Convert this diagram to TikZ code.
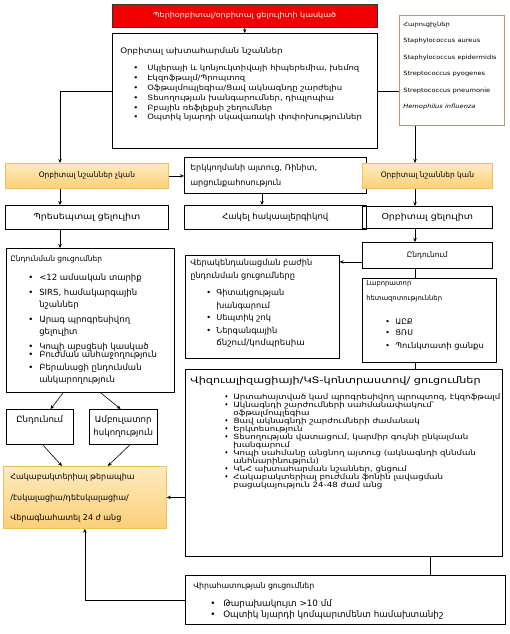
\documentclass[tikz,border=0pt]{standalone}
\usepackage{fontspec}
\setmainfont{DejaVu Sans}
\newfontfamily\wide[FakeStretch=1.15]{DejaVu Sans}
\usepackage{tikz}
\usetikzlibrary{positioning,arrows.meta,calc}
\usepackage{xcolor}
\definecolor{alertred}{HTML}{F00000}
\definecolor{signtop}{HTML}{FEEBBE}
\definecolor{signbot}{HTML}{FBCF78}
\definecolor{signline}{HTML}{F3BE5C}
\definecolor{bugline}{HTML}{B8957A}
\newlength{\bulind}\newlength{\bulgap}
\newcommand{\bitem}[1]{\hspace*{\bulind}\makebox[\bulgap][l]{\textbullet}#1}
\newcommand{\bcont}[1]{\hspace*{\dimexpr\bulind+\bulgap\relax}#1}
\newcommand{\hs}[2][1.2]{\scalebox{#1}[1]{#2}}

\begin{document}
\begin{tikzpicture}[x=1pt,y=-1pt,>={Stealth[length=4pt,width=3.5pt]},
  every node/.style={anchor=north west,inner sep=0pt,font=\fontsize{7.5}{9}\selectfont},
  plainbox/.style={draw,line width=0.6pt,align=center},
  signbox/.style={draw=signline,line width=0.8pt,top color=signtop,bottom color=signbot,align=center},
  link/.style={line width=0.6pt}]
\path[use as bounding box] (0,0) rectangle (509,634);
\coordinate (lx) at (60,0);
\coordinate (mx) at (262,0);
\coordinate (rx) at (415,0);
\coordinate (sx) at (430,0);

% top of the chart
\node[draw=black!80,fill=alertred,text=white,minimum width=265pt,minimum height=23pt,font=\wide\fontsize{7}{8}\selectfont] (susp) at (112,4) {Պերիօրբիտալ/օրբիտալ ցելուլիտի կասկած};
\node[plainbox,inner xsep=8pt,inner ysep=5pt] (orbsign) at (112,33) {\parbox[t][105pt][t]{249pt}{\wide\fontsize{7.35}{9.8}\selectfont
  \setlength{\bulind}{13pt}\setlength{\bulgap}{14pt}%
  \rule{0pt}{15.5pt}{\fontsize{7.6}{9.8}\selectfont Օրբիտալ ախտահարման նշաններ}\\[7.2pt]
  \bitem{Սկլերայի և կոնյուկտիվայի հիպերեմիա, խեմոզ}\\
  \bitem{Էկզոֆթալմ/Պրոպտոզ}\\
  \bitem{Օֆթալմոպլեգիա/Ցավ ակնագնդը շարժելիս}\\
  \bitem{Տեսողության խանգարումներ, դիպլոպիա}\\
  \bitem{Բբային ռեֆլեքսի շեղումներ}\\
  \bitem{Օպտիկ նյարդի սկավառակի փոփոխություններ}}};
\node[draw=bugline,line width=0.7pt,inner sep=4pt] (bugs) at (399,15) {\parbox[t][102pt][t]{97pt}{\wide\fontsize{5.8}{16.5}\selectfont
  \rule{0pt}{7pt}Հարուցիչներ\\
  Staphylococcus aureus\\
  Staphylococcus epidermidis\\
  Streptococcus pyogenes\\
  Streptococcus pneumonie\\
  \textit{Hemophilus influenza}}};

% second row
\node[signbox,minimum width=163pt,minimum height=25pt] (nosign) at (5,163) {Օրբիտալ նշաններ չկան};
\node[plainbox,align=left,text width=170pt,minimum height=36pt,inner xsep=6pt,font=\fontsize{8.1}{15}\selectfont] (bilat) at (184,157) {Երկկողմանի այտուց, Ռինիտ,\\ արցունքահոսություն};
\node[signbox,minimum width=130pt,minimum height=25pt] (sign) at (362,163) {Օրբիտալ նշաններ կան};
\node[plainbox,minimum width=163pt,minimum height=24pt,font=\wide\fontsize{8.2}{9}\selectfont] (presept) at (5,205) {Պրեսեպտալ ցելուլիտ};
\node[plainbox,minimum width=182pt,minimum height=24pt,font=\fontsize{8.5}{9}\selectfont] (antiall) at (184,205) {Հակել հակաալերգիկով};
\node[plainbox,minimum width=130pt,minimum height=22pt,font=\wide\fontsize{8.2}{9}\selectfont] (orbcel) at (362,206) {Օրբիտալ ցելուլիտ};
\node[plainbox,minimum width=130pt,minimum height=26pt] (admit2) at (362,242) {Ընդունում};

% left column
\node[plainbox,inner sep=4pt] (admind) at (6,248) {\parbox[t][136pt][t]{160pt}{\fontsize{8.5}{12}\selectfont
  \setlength{\bulind}{18pt}\setlength{\bulgap}{11pt}%
  \rule{0pt}{9.5pt}{\fontsize{7.5}{12}\selectfont Ընդունման ցուցումներ}\\[7pt]
  \bitem{<12 ամսական տարիք}\\[3pt]
  \bitem{SIRS, համակարգային}\\
  \bcont{նշաններ}\\[3pt]
  \bitem{Արագ պրոգրեսիվող}\\
  \bcont{ցելուլիտ}\\[3pt]
  \bitem{Կոպի աբսցեսի կասկած}\\[-4pt]
  \bitem{Բուժման անհաջողություն}\\[1pt]
  \bitem{Բերանացի ընդունման}\\
  \bcont{անկարողություն}}};
\node[plainbox,inner xsep=2pt,inner ysep=4pt] (admit) at (6,409) {\parbox[t][27pt][t]{63pt}{\centering\fontsize{8.6}{13}\selectfont\rule{0pt}{9.5pt}Ընդունում}};
\node[plainbox,inner xsep=2pt,inner ysep=4pt] (outpt) at (89,409) {\parbox[t][27pt][t]{64pt}{\centering\fontsize{8.6}{13}\selectfont\rule{0pt}{9.5pt}Ամբուլատոր\\ հսկողություն}};
\node[signbox,inner xsep=7pt,inner ysep=4pt] (abx) at (3,466) {\parbox[t][54pt][t]{149pt}{\fontsize{8}{20.5}\selectfont
  \rule{0pt}{9.5pt}Հակաբակտերիալ թերապիա\\
  /էսկալացիա/դեէսկալացիա/\\
  Վերագնահատել 24 ժ անց}};

% middle and right
\node[plainbox,inner xsep=5pt,inner ysep=4pt] (icu) at (185,255) {\parbox[t][95pt][t]{144pt}{\fontsize{8.2}{12.5}\selectfont
  \setlength{\bulind}{16pt}\setlength{\bulgap}{10pt}%
  \rule{0pt}{6.5pt}Վերակենդանացման բաժին\\
  ընդունման ցուցումները\\[5pt]
  \bitem{Գիտակցության}\\
  \bcont{խանգարում}\\
  \bitem{Սեպտիկ շոկ}\\
  \bitem{Ներգանգային}\\
  \bcont{\hs[1.06]{ճնշում/կոմպրեսիա}}}};
\node[plainbox,inner xsep=4pt,inner ysep=2pt] (lab) at (362,278) {\parbox[t][80pt][t]{126pt}{\fontsize{7.8}{15}\selectfont
  \setlength{\bulind}{19pt}\setlength{\bulgap}{10pt}%
  {\fontsize{6.8}{15}\selectfont Լաբորատոր\\
  հետազոտություններ}\\[9pt]
  \bitem{ԱԸՔ}\\[-4pt]
  \bitem{ՑՌՍ}\\[-2pt]
  \bitem{\hs[1.08]{Պունկտատի ցանքս}}}};
\node[plainbox,inner xsep=5pt,inner ysep=4pt] (viz) at (185,369) {\parbox[t][179pt][t]{307pt}{%
  {\fontsize{9}{11}\selectfont\rule{0pt}{10.5pt}\hs[1.25]{Վիզուալիզացիայի/ԿՏ-կոնտրաստով/ ցուցումներ}\par}
  \vspace{7.9pt}
  \fontsize{7.2}{8}\selectfont\lineskiplimit=-10pt
  \setlength{\bulind}{34pt}\setlength{\bulgap}{9pt}%
  \bitem{\hs{Արտահայտված կամ պրոգրեսիվող պրոպտոզ, էկզոֆթալմ}}\\
  \bitem{\hs{Ակնագնդի շարժումների սահմանափակում՝}}\\
  \bcont{\hs{օֆթալմոպլեգիա}}\\
  \bitem{\hs{Ցավ ակնագնդի շարժումների ժամանակ}}\\
  \bitem{\hs{Երկտեսություն}}\\
  \bitem{\hs{Տեսողության վատացում, կարմիր գույնի ընկալման}}\\
  \bcont{\hs{խանգարում}}\\
  \bitem{\hs{Կոպի սահմանը անցնող այտուց (ակնագնդի զննման}}\\
  \bcont{\hs{անհնարինություն)}}\\
  \bitem{\hs{ԿՆՀ ախտահարման նշաններ, ցնցում}}\\
  \bitem{\hs{Հակաբակտերիալ բուժման ֆոնին լավացման}}\\
  \bcont{\hs{բացակայություն 24-48 ժամ անց}}}};
\node[plainbox,inner xsep=8pt,inner ysep=3pt] (surg) at (185,575) {\parbox[t][43pt][t]{304pt}{\fontsize{8.8}{11}\selectfont
  \setlength{\bulind}{17pt}\setlength{\bulgap}{13pt}%
  \rule{0pt}{10.5pt}{\fontsize{7.8}{11}\selectfont Վիրահատության ցուցումներ}\\[7pt]
  \bitem{Թարախակույտ >10 մմ}\\
  \bitem{Օպտիկ նյարդի կոմպարտմենտ համախտանիշ}}};

% connectors
\coordinate (toicu) at ($(admit2.south west)!0.25!(admit2.north west)$);
\draw[link,->] (susp.south) -- (orbsign.north);
\draw[link,->] (orbsign.west) -| (lx |- nosign.north);
\draw[link] (orbsign.east) -- (orbsign.east -| bugs.west);
\draw[link,->] (bugs.south -| rx) -- (sign.north -| rx);
\draw[link,->] (nosign.east) -- (nosign.east -| bilat.west);
\draw[link,->] (bilat.south -| mx) -- (antiall.north -| mx);
\draw[link,->] (nosign.south -| lx) -- (presept.north -| lx);
\draw[link,->] (presept.south -| lx) -- (admind.north -| lx);
\draw[link,->] ($(admind.south west)!0.34!(admind.south east)$) -- ($(admit.north west)!0.66!(admit.north east)$);
\draw[link,->] ($(admind.south west)!0.56!(admind.south east)$) -- ($(outpt.north west)!0.46!(outpt.north east)$);
\draw[link,->] ($(admit.south west)!0.54!(admit.south east)$) -- ($(abx.north west)!0.36!(abx.north east)$);
\draw[link,->] ($(outpt.south west)!0.6!(outpt.south east)$) -- ($(abx.north west)!0.64!(abx.north east)$);
\draw[link,->] (viz.west |- abx.east) -- (abx.east);
\draw[link,->] (surg.west) -| (abx.south);
\draw[link,->] (sign.south -| rx) -- (orbcel.north -| rx);
\draw[link,->] (orbcel.south -| rx) -- (admit2.north -| rx);
\draw[link,->] (toicu) -- (toicu -| icu.east);
\draw[link] (admit2.south -| rx) -- (lab.north -| rx);
\draw[link] (lab.south -| rx) -- (viz.north -| rx);
\draw[link] (viz.south -| sx) -- (surg.north -| sx);
\end{tikzpicture}
\end{document}
